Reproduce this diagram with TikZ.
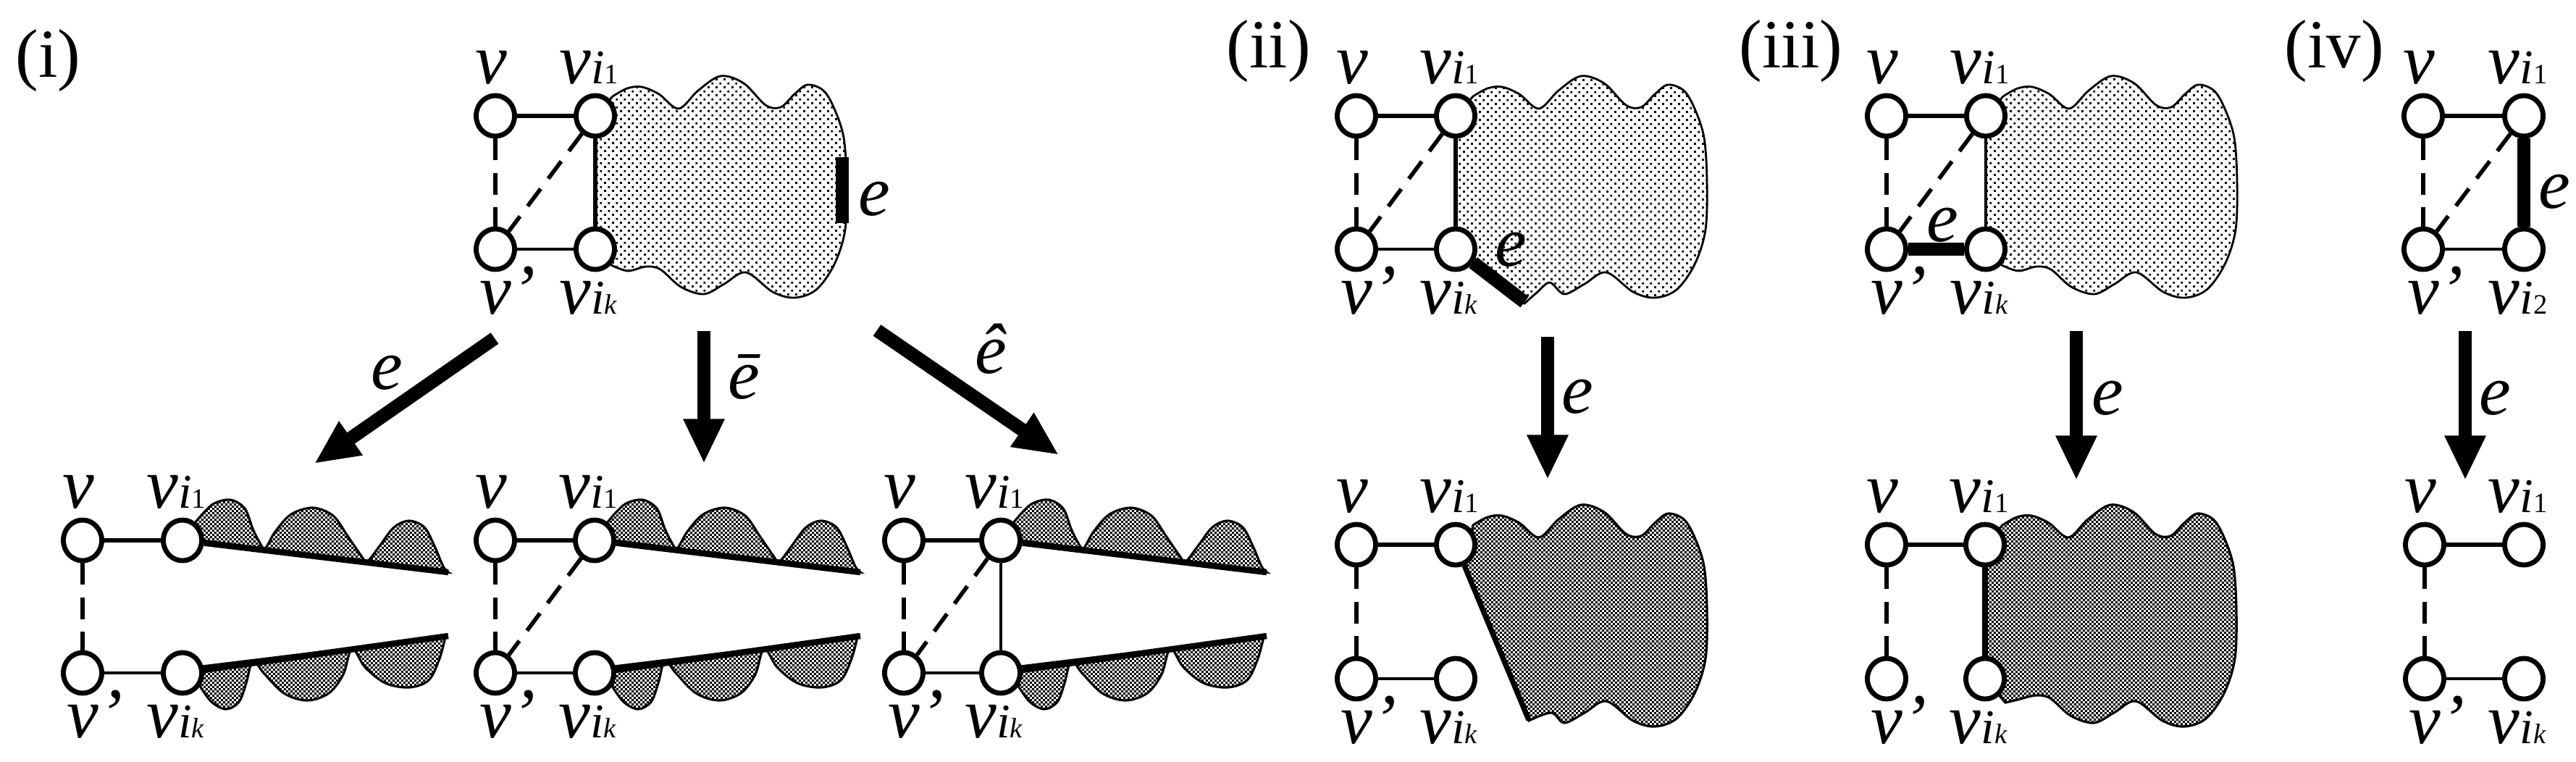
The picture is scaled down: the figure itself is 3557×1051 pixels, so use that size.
\documentclass[tikz,border=0pt]{standalone}
\usepackage{fontspec}
\setmainfont{Liberation Serif}
\usetikzlibrary{shapes.geometric,arrows.meta,patterns}

\pgfdeclarepatternformonly{sdots}{\pgfpointorigin}{\pgfpoint{3.21pt}{3.21pt}}{\pgfpoint{3.21pt}{3.21pt}}{%
  \pgfpathrectangle{\pgfpoint{0pt}{0pt}}{\pgfpoint{0.85pt}{0.85pt}}%
  \pgfpathrectangle{\pgfpoint{1.605pt}{1.605pt}}{\pgfpoint{0.85pt}{0.85pt}}%
  \pgfusepath{fill}}
\pgfdeclarepatternformonly{checker}{\pgfpointorigin}{\pgfpoint{1.7pt}{1.7pt}}{\pgfpoint{1.7pt}{1.7pt}}{%
  \pgfpathrectangle{\pgfpoint{0pt}{0pt}}{\pgfpoint{0.85pt}{0.85pt}}%
  \pgfpathrectangle{\pgfpoint{0.85pt}{0.85pt}}{\pgfpoint{0.85pt}{0.85pt}}%
  \pgfusepath{fill}}

\pgfdeclarelayer{blobs}
\pgfdeclarelayer{edges}
\pgfsetlayers{blobs,edges,main}

\newcommand\vsub[1]{v{\fontsize{19}{20}\selectfont i{\fontsize{11}{12}\selectfont #1}}}

\newcommand\blobdraw[3]{\draw[#1] #2 plot[smooth,tension=0.55] coordinates {(24,-27) (44,-38) (64,-40) (88,-30) (115,-10) (142,-35) (173,-55) (205,-45) (235,-15) (256,-12) (275,-30) (293,-43) (315,-35) (330,-10) (343,30) (347,90) (345,157) (330,205) (305,240) (275,251) (245,243) (208,216) (178,232) (150,246) #3} -- cycle;}

\newcommand\cutpieces[2]{%
  \begin{scope}[shift={(#1,746)}]
    \draw[darkfill] (27,0) -- (12,-18) -- plot[smooth,tension=0.55] coordinates {(22,-30) (42,-50) (66,-56) (86,-44) (97,-16) (106,2) (114,11) (128,-12) (150,-36) (180,-45) (208,-34) (228,-6) (246,20) (255,29) (272,8) (292,-18) (313,-27) (334,-18) (348,8) (360,36) (367,44)} -- cycle;
  \end{scope}
  \begin{scope}[shift={(#1,929)}]
    \draw[darkfill] (27,-9) -- (14,14) -- plot[smooth,tension=0.55] coordinates {(24,18) (40,40) (60,50) (78,40) (88,14) (97,-17) (112,0) (140,28) (172,38) (202,28) (222,2) (234,-34) (252,-8) (280,14) (313,20) (340,10) (355,-20) (363,-50)} -- cycle;
  \end{scope}
  \coordinate (#2t) at ({#1+367},790);
  \coordinate (#2b) at ({#1+367},878);}

\newcommand\gnodes[5]{%
  \node[vert] (#1v) at (#2,#4) {};
  \node[vert] (#1a) at (#3,#4) {};
  \node[vert] (#1p) at (#2,#5) {};
  \node[vert] (#1k) at (#3,#5) {};}
\newcommand\glabels[6]{%
  \node[lab] (#1Lv) at ({#2-6},{#4-45}) {v};
  \node[labw] (#1La) at ({#3-50},{#4-45}) {\vsub{\upshape 1}};
  \node[labw] (#1Lp) at ({#2-22},{#5+89}) {v'};
  \node[labw] (#1Lk) at ({#3-50},{#5+89}) {\vsub{#6}};}

\begin{document}
\begin{tikzpicture}[x=0.01cm,y=-0.01cm,
  vert/.style={ellipse,draw,fill=white,line width=1.95pt,minimum width=0.53cm,minimum height=0.56cm,inner sep=0pt},
  ed/.style={line width=1.75pt},
  edt/.style={line width=1.3pt},
  edk/.style={line width=2.1pt},
  dsh/.style={line width=1.6pt,dash pattern=on 8.5pt off 5pt},
  ethick/.style={line width=5.3pt},
  cutl/.style={line width=2.4pt},
  dotfill/.style={pattern=sdots,draw,line width=0.8pt},
  darkfill/.style={pattern=checker,draw,line width=0.9pt},
  bigarrow/.style={line width=5.3pt,-{Triangle[length=17.5pt,width=15pt]}},
  lab/.style={font=\fontsize{28}{30}\selectfont\itshape,inner sep=0pt,anchor=base},
  labw/.style={lab,anchor=base west},
  tag/.style={font=\fontsize{27}{29}\selectfont,inner sep=0pt,anchor=base west}]
\useasboundingbox (0,0) rectangle (3557,1051);

% ---------- vertices ----------
\gnodes{T1}{684}{822}{160}{344}
\gnodes{T2}{1873}{2010}{160}{344}
\gnodes{T3}{2605}{2742}{160}{344}
\gnodes{T4}{3346}{3485}{160}{344}
\gnodes{B1}{114}{252}{746}{929}
\gnodes{B2}{684}{821}{746}{929}
\gnodes{B3}{1248}{1382}{746}{929}
\gnodes{B4}{1873}{2010}{752}{937}
\gnodes{B5}{2605}{2741}{752}{937}
\gnodes{B6}{3348}{3485}{752}{937}

% ---------- vertex labels ----------
\glabels{T1}{684}{822}{160}{344}{k}
\glabels{T2}{1873}{2010}{160}{344}{k}
\glabels{T3}{2605}{2742}{160}{344}{k}
\glabels{T4}{3346}{3485}{160}{344}{\upshape 2}
\glabels{B1}{114}{252}{746}{929}{k}
\glabels{B2}{684}{821}{746}{929}{k}
\glabels{B3}{1248}{1382}{746}{929}{k}
\glabels{B4}{1873}{2010}{752}{937}{k}
\glabels{B5}{2605}{2741}{752}{937}{k}
\glabels{B6}{3348}{3485}{752}{937}{k}

% ---------- tags ----------
\node[tag] (tagi) at (21,106) {(i)};
\node[tag] (tagii) at (1693,93) {(ii)};
\node[tag] (tagiii) at (2401,93) {(iii)};
\node[tag] (tagiv) at (3154,93) {(iv)};

% ---------- blobs ----------
\begin{pgfonlayer}{blobs}
  \begin{scope}[shift={(822,160)}]\blobdraw{dotfill}{(0,184) -- (0,0) --}{(118,236) (90,212) (70,208) (45,214) (22,206)}\end{scope}
  \begin{scope}[shift={(2010,160)}]\blobdraw{dotfill}{(0,184) -- (0,0) --}{(130,230) (112,244) (95,259)}\end{scope}
  \begin{scope}[shift={(2742,160)}]\blobdraw{dotfill}{(0,184) -- (0,0) --}{(118,236) (90,212) (70,208) (45,214) (22,206)}\end{scope}
  \begin{scope}[shift={(2010,752)}]\blobdraw{darkfill}{(13,27) --}{(132,232) (101,243)}\end{scope}
  \begin{scope}[shift={(2741,752)}]\blobdraw{darkfill}{(0,185) -- (0,0) --}{(118,236) (90,212) (70,208) (45,214) (28,218)}\end{scope}
  \cutpieces{252}{B1}
  \cutpieces{821}{B2}
  \cutpieces{1382}{B3}
\end{pgfonlayer}

\coordinate (T1e1) at (1163,217);
\coordinate (T1e2) at (1163,308);
\coordinate (T2ee) at (2105,417);
\coordinate (B4x) at (2111,994);

% ---------- edges ----------
\begin{pgfonlayer}{edges}
  % (i) top
  \draw[ed] (T1v) -- (T1a);
  \draw[dsh] (T1v) -- (T1p);
  \draw[dsh] (T1a) -- (T1p);
  \draw[ed] (T1a) -- (T1k);
  \draw[edt] (T1p) -- (T1k);
  % (ii) top
  \draw[ed] (T2v) -- (T2a);
  \draw[dsh] (T2v) -- (T2p);
  \draw[dsh] (T2a) -- (T2p);
  \draw[ed] (T2a) -- (T2k);
  \draw[edt] (T2p) -- (T2k);
  \draw[ethick] (T2k) -- (T2ee);
  % (iii) top
  \draw[ed] (T3v) -- (T3a);
  \draw[dsh] (T3v) -- (T3p);
  \draw[dsh] (T3a) -- (T3p);
  \draw[edt] (T3a) -- (T3k);
  \draw[ethick] (T3p) -- (T3k);
  % (iv) top
  \draw[ed] (T4v) -- (T4a);
  \draw[dsh] (T4v) -- (T4p);
  \draw[dsh] (T4a) -- (T4p);
  \draw[ethick] (T4a) -- (T4k);
  \draw[edt] (T4p) -- (T4k);
  % (i) bottom
  \draw[ed] (B1v) -- (B1a);
  \draw[dsh] (B1v) -- (B1p);
  \draw[edt] (B1p) -- (B1k);
  \draw[cutl] (B1a) -- (B1t);
  \draw[cutl] (B1k) -- (B1b);
  \draw[ed] (B2v) -- (B2a);
  \draw[dsh] (B2v) -- (B2p);
  \draw[dsh] (B2a) -- (B2p);
  \draw[edt] (B2p) -- (B2k);
  \draw[cutl] (B2a) -- (B2t);
  \draw[cutl] (B2k) -- (B2b);
  \draw[ed] (B3v) -- (B3a);
  \draw[dsh] (B3v) -- (B3p);
  \draw[dsh] (B3a) -- (B3p);
  \draw[edt] (B3a) -- (B3k);
  \draw[edt] (B3p) -- (B3k);
  \draw[cutl] (B3a) -- (B3t);
  \draw[cutl] (B3k) -- (B3b);
  % (ii) bottom
  \draw[ed] (B4v) -- (B4a);
  \draw[dsh] (B4v) -- (B4p);
  \draw[edt] (B4p) -- (B4k);
  \draw[edk] (B4a) -- (B4x);
  % (iii) bottom
  \draw[ed] (B5v) -- (B5a);
  \draw[dsh] (B5v) -- (B5p);
  \draw[edk] (B5a) -- (B5k);
  % (iv) bottom
  \draw[ed] (B6v) -- (B6a);
  \draw[dsh] (B6v) -- (B6p);
  \draw[edt] (B6p) -- (B6k);
\end{pgfonlayer}

\draw[ethick] (T1e1) -- (T1e2);

% ---------- edge labels ----------
\node[lab] (eT1) at (1207,297) {e};
\node[lab] (eT2) at (2086,367) {e};
\node[lab] (eT3) at (2682,333) {e};
\node[lab] (eT4) at (3527,287) {e};

% ---------- arrows ----------
\coordinate (A1s) at (683,467); \coordinate (A1e) at (434,640);
\coordinate (A2s) at (972,457); \coordinate (A2e) at (972,640);
\coordinate (A3s) at (1211,456); \coordinate (A3e) at (1462,628);
\coordinate (A4s) at (2137,465); \coordinate (A4e) at (2137,662);
\coordinate (A5s) at (2867,457); \coordinate (A5e) at (2867,663);
\coordinate (A6s) at (3404,457); \coordinate (A6e) at (3404,663);
\draw[bigarrow] (A1s) -- (A1e);
\draw[bigarrow] (A2s) -- (A2e);
\draw[bigarrow] (A3s) -- (A3e);
\draw[bigarrow] (A4s) -- (A4e);
\draw[bigarrow] (A5s) -- (A5e);
\draw[bigarrow] (A6s) -- (A6e);

\node[lab] (lA1) at (534,537) {e};
\node[lab] (lA2) at (1027,550) {\=e};
\node[lab] (lA3) at (1368,515) {\^e};
\node[lab] (lA4) at (2178,570) {e};
\node[lab] (lA5) at (2910,572) {e};
\node[lab] (lA6) at (3445,572) {e};
\end{tikzpicture}
\end{document}
